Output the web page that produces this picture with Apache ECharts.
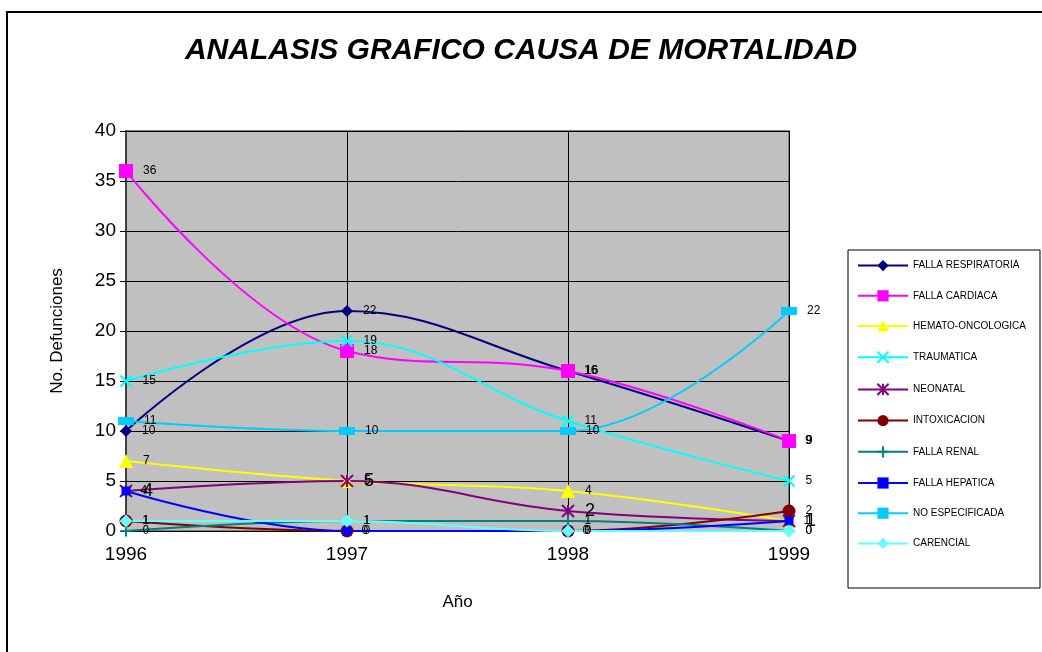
<!DOCTYPE html>
<html>
<head>
<meta charset="utf-8">
<script src="https://cdn.jsdelivr.net/npm/echarts@6/dist/echarts.min.js"></script>
<style>
html,body{margin:0;padding:0;background:#fff;}
#chart{width:1042px;height:652px;}
</style>
</head>
<body>
<div id="chart"></div>
<script>
// datos del grafico
var anios = ['1996', '1997', '1998', '1999'];
var respiratoria = [10, 22, 16, 9];
var cardiaca = [36, 18, 16, 9];
var hemato = [7, 5, 4, 1];
var traumatica = [15, 19, 11, 5];
var neonatal = [4, 5, 2, 1];
var intoxicacion = [1, 0, 0, 2];
var renal = [0, 1, 1, 0];
var hepatica = [4, 0, 0, 1];
var noEspecificada = [11, 10, 10, 22];
var carencial = [1, 1, 0, 0];

var FONT = 'Arial, "Liberation Sans", sans-serif';

var simbolos = {
	cruzX : 'path://M0,0L10,10M10,0L0,10',
	asterisco : 'path://M0,0L10,10M10,0L0,10M5,0L5,10',
	mas : 'path://M5,0L5,10M0,5L10,5'
};

function serie(nombre, datos, color, symbol, size, trazo, fontSize){
	var item = { color : color };
	if(trazo){
		item = { color : color, borderColor : color, borderWidth : 2 };
	}
	return {
		name : nombre,
		type : 'line',
		smooth : 0.4,
		data : datos,
		symbol : symbol,
		symbolSize : size,
		showAllSymbol : true,
		lineStyle : { color : color, width : 2 },
		itemStyle : item,
		label : {
			show : true,
			position : 'right',
			distance : 10,
			color : '#000',
			fontFamily : FONT,
			fontSize : fontSize || 12
		},
		emphasis : { disabled : true }
	};
}

var myChart = echarts.init(document.getElementById('chart'));
var option = {
	animation : false,
	title : {
		text : 'ANALASIS GRAFICO CAUSA DE MORTALIDAD',
		left : 'center',
		top : 31,
		textStyle : {
			fontFamily : FONT,
			fontSize : 30,
			fontWeight : 'bold',
			fontStyle : 'italic',
			color : '#000'
		}
	},
	graphic : [
		{
			type : 'rect',
			shape : { x : 7, y : 12, width : 1100, height : 700 },
			style : { fill : 'none', stroke : '#000', lineWidth : 2 },
			z : -1
		},
		{
			type : 'rect',
			shape : { x : 848, y : 250, width : 192, height : 338 },
			style : { fill : '#fff', stroke : '#000', lineWidth : 1 },
			z : 0
		}
	],
	legend : {
		orient : 'vertical',
		left : 857,
		top : 260,
		padding : 0,
		itemWidth : 50,
		itemHeight : 14,
		itemGap : 19,
		z : 10,
		textStyle : { fontFamily : FONT, fontSize : 10, color : '#000' }
	},
	grid : {
		left : 126,
		right : 253,
		top : 131,
		bottom : 121,
		show : true,
		backgroundColor : '#C0C0C0',
		borderColor : '#808080',
		borderWidth : 2
	},
	xAxis : {
		type : 'category',
		data : anios,
		boundaryGap : false,
		name : 'Año',
		nameLocation : 'middle',
		nameGap : 63,
		nameTextStyle : { fontFamily : FONT, fontSize : 17, color : '#000' },
		axisLine : { show : false },
		axisTick : { show : false },
		axisLabel : { fontFamily : FONT, fontSize : 19, color : '#000', margin : 14 },
		splitLine : { show : true, lineStyle : { color : '#000', width : 1 } }
	},
	yAxis : {
		type : 'value',
		min : 0,
		max : 40,
		interval : 5,
		name : 'No. Defunciones',
		nameLocation : 'middle',
		nameGap : 60,
		nameTextStyle : { fontFamily : FONT, fontSize : 17, color : '#000' },
		axisLine : { show : true, lineStyle : { color : '#404040', width : 2 } },
		axisTick : { show : true, length : 6, lineStyle : { color : '#000' } },
		axisLabel : { fontFamily : FONT, fontSize : 19, color : '#000', margin : 10 },
		splitLine : { show : true, lineStyle : { color : '#000', width : 1 } }
	},
	series : [
		serie('FALLA RESPIRATORIA', respiratoria, '#000080', 'diamond', 12),
		serie('FALLA CARDIACA', cardiaca, '#FF00FF', 'rect', 14),
		serie('HEMATO-ONCOLOGICA', hemato, '#FFFF00', 'triangle', 14),
		serie('TRAUMATICA', traumatica, '#00FFFF', simbolos.cruzX, 11, true),
		serie('NEONATAL', neonatal, '#800080', simbolos.asterisco, 12, true, 18),
		serie('INTOXICACION', intoxicacion, '#800000', 'circle', 13),
		serie('FALLA RENAL', renal, '#008080', simbolos.mas, 11, true),
		serie('FALLA HEPATICA', hepatica, '#0000FF', 'rect', 9),
		serie('NO ESPECIFICADA', noEspecificada, '#00CCFF', 'rect', [16, 8]),
		serie('CARENCIAL', carencial, '#66FFFF', 'diamond', 13)
	]
};
myChart.setOption(option);
</script>
</body>
</html>
